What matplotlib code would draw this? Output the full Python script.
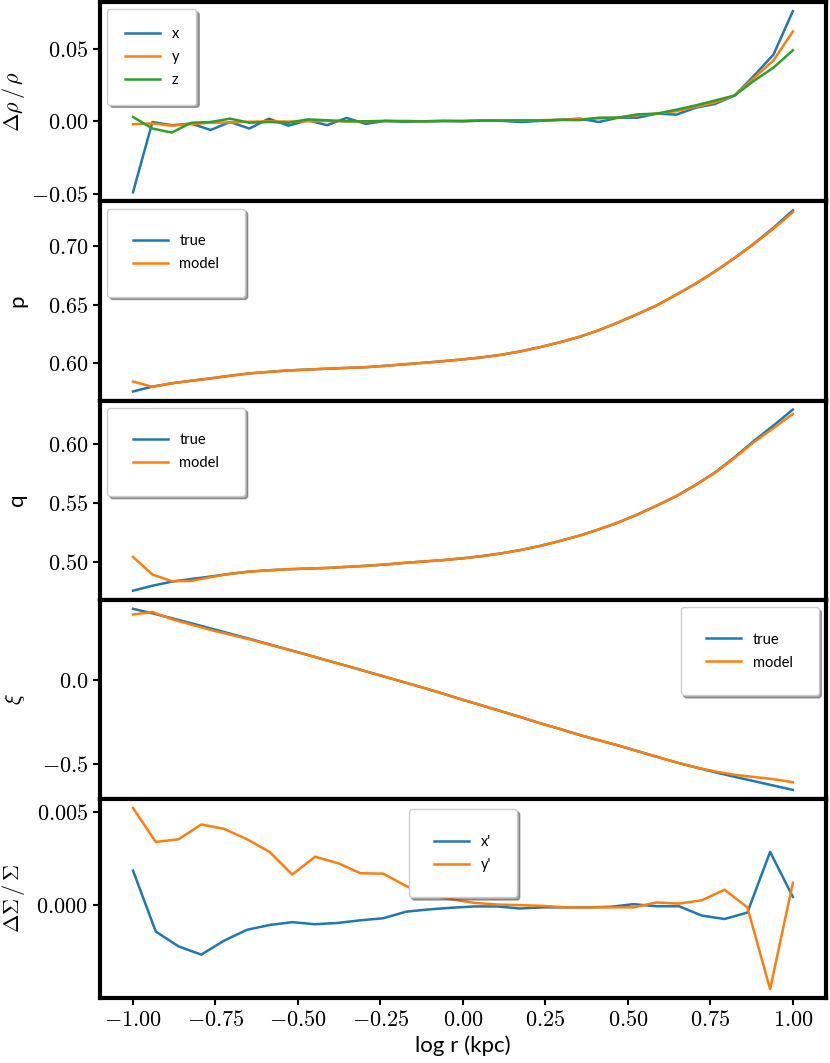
import numpy as np
import matplotlib
matplotlib.use('Agg')
import matplotlib.pyplot as plt
from matplotlib.ticker import FuncFormatter

plt.rcParams['mathtext.fontset'] = 'cm'
plt.rcParams['font.family'] = ['Lato', 'DejaVu Sans']

# log r grid (35 points for the shape panels, 30 for the projected one)
logr = np.linspace(-1, 1, 35)
logr2 = np.linspace(-1, 1, 30)

drho_x = [-0.049, -0.0005, -0.0027, -0.0016, -0.006, -0.0005, -0.005, 0.0018, -0.003, 0.0007,
          -0.0027, 0.0023, -0.0018, 0.0003, -0.0003, 0.0, 0.0002, 0.0, 0.0005, 0.0003,
          -0.0005, 0.0003, 0.001, 0.0018, -0.0005, 0.0025, 0.0025, 0.0053, 0.0046, 0.0094,
          0.012, 0.0178, 0.0315, 0.046, 0.076]
drho_y = [-0.002, -0.0015, -0.003, -0.002, -0.001, -0.0008, -0.0003, 0.0, -0.0002, 0.0,
          0.0002, 0.0, 0.0, 0.0002, 0.0003, 0.0, 0.0003, 0.0002, 0.0004, 0.0005,
          0.0006, 0.0008, 0.001, 0.0015, 0.002, 0.0025, 0.0042, 0.0053, 0.007, 0.010,
          0.013, 0.0178, 0.030, 0.042, 0.062]
drho_z = [0.003, -0.005, -0.0078, -0.001, -0.0005, 0.0018, -0.001, -0.0005, -0.001, 0.0013,
          0.0007, 0.0, 0.0, 0.0002, 0.0, 0.0, 0.0002, 0.0002, 0.0005, 0.0005,
          0.0006, 0.0005, 0.001, 0.0008, 0.0025, 0.0025, 0.0048, 0.0053, 0.008, 0.011,
          0.0144, 0.0178, 0.028, 0.037, 0.049]

p_true = [0.5755, 0.5797, 0.5825, 0.5847, 0.5867, 0.5890, 0.5910, 0.5923, 0.5935, 0.5943,
          0.5950, 0.5957, 0.5963, 0.5975, 0.5988, 0.6001, 0.6015, 0.6030, 0.6048, 0.6070,
          0.6100, 0.6136, 0.6177, 0.6223, 0.6280, 0.6347, 0.6418, 0.6494, 0.6585, 0.6680,
          0.6785, 0.6900, 0.7023, 0.7158, 0.7307]
p_model = [0.5840, 0.5795, 0.5825, 0.5847, 0.5867, 0.5890, 0.5910, 0.5923, 0.5935, 0.5943,
           0.5950, 0.5957, 0.5963, 0.5975, 0.5988, 0.6001, 0.6015, 0.6030, 0.6048, 0.6070,
           0.6100, 0.6136, 0.6177, 0.6223, 0.6280, 0.6347, 0.6418, 0.6494, 0.6585, 0.6680,
           0.6785, 0.6898, 0.7020, 0.7150, 0.7291]

q_true = [0.4758, 0.4800, 0.4835, 0.4857, 0.4878, 0.4901, 0.4920, 0.4931, 0.4940, 0.4946,
          0.4951, 0.4960, 0.4969, 0.4980, 0.4994, 0.5006, 0.5018, 0.5033, 0.5052, 0.5075,
          0.5104, 0.5139, 0.5180, 0.5225, 0.5278, 0.5337, 0.5405, 0.5481, 0.5561, 0.5657,
          0.5763, 0.5891, 0.6030, 0.6160, 0.6295]
q_model = [0.5045, 0.4895, 0.4839, 0.4841, 0.4873, 0.4901, 0.4920, 0.4931, 0.4940, 0.4946,
           0.4951, 0.4960, 0.4969, 0.4980, 0.4994, 0.5006, 0.5018, 0.5033, 0.5052, 0.5075,
           0.5104, 0.5139, 0.5180, 0.5225, 0.5278, 0.5337, 0.5405, 0.5481, 0.5561, 0.5655,
           0.5760, 0.5885, 0.6020, 0.6138, 0.6258]

xi_true = [0.424, 0.397, 0.368, 0.338, 0.307, 0.276, 0.245, 0.213, 0.181, 0.149,
           0.116, 0.084, 0.051, 0.018, -0.015, -0.048, -0.083, -0.119, -0.153, -0.188,
           -0.223, -0.259, -0.293, -0.328, -0.360, -0.391, -0.425, -0.459, -0.492, -0.522,
           -0.551, -0.578, -0.604, -0.630, -0.656]
xi_model = [0.390, 0.405, 0.362, 0.330, 0.298, 0.270, 0.242, 0.211, 0.180, 0.149,
            0.116, 0.084, 0.051, 0.018, -0.015, -0.048, -0.083, -0.119, -0.153, -0.188,
            -0.223, -0.259, -0.293, -0.328, -0.360, -0.391, -0.425, -0.459, -0.492, -0.522,
            -0.546, -0.566, -0.579, -0.592, -0.610]

dsig_x = [0.00186, -0.00139, -0.00218, -0.00262, -0.00188, -0.0013, -0.00104, -0.00089, -0.001, -0.00093,
          -0.00079, -0.00068, -0.00033, -0.00021, -0.00012, -0.00005, -0.00005, -0.00016, -0.0001, -0.0001,
          -0.0001, -0.00007, 0.00007, -0.00004, -0.00004, -0.00054, -0.00072, -0.00038, 0.00286, 0.00046]
dsig_y = [0.0052, 0.00339, 0.00353, 0.00432, 0.00409, 0.00354, 0.00286, 0.00165, 0.0026, 0.00226,
          0.00172, 0.0017, 0.00104, 0.00058, 0.00033, 0.00014, 0.00005, 0.00002, -0.00002, -0.0001,
          -0.0001, -0.0001, -0.0001, 0.00016, 0.0001, 0.00028, 0.00084, -0.0001, -0.00446, 0.00121]

xticks = [-1.0, -0.75, -0.5, -0.25, 0.0, 0.25, 0.5, 0.75, 1.0]

fig, axes = plt.subplots(5, 1, sharex=True, figsize=(8.3, 10.63), dpi=100,
                         gridspec_kw=dict(hspace=0))
fig.subplots_adjust(left=0.1205, right=0.995, top=0.998, bottom=0.061)

lw = 1.8
leg_kw = dict(shadow=True, fancybox=True, fontsize=10.5, handlelength=2.4, labelspacing=0.62)

ax = axes[0]
ax.plot(logr, drho_x, lw=lw, label='x')
ax.plot(logr, drho_y, lw=lw, label='y')
ax.plot(logr, drho_z, lw=lw, label='z')
ax.set_yticks([-0.05, 0.0, 0.05])
ax.yaxis.set_major_formatter(FuncFormatter(lambda v, _: '$%.2f$' % v))
ax.set_ylabel(r'$\Delta\rho\,/\,\rho$')
ax.legend(loc='upper left', borderpad=1.2, **leg_kw)

ax = axes[1]
ax.plot(logr, p_true, lw=lw, label='true')
ax.plot(logr, p_model, lw=lw, label='model')
ax.set_yticks([0.60, 0.65, 0.70])
ax.yaxis.set_major_formatter(FuncFormatter(lambda v, _: '$%.2f$' % v))
ax.set_ylabel('p')
ax.legend(loc='upper left', borderpad=1.75, **leg_kw)

ax = axes[2]
ax.plot(logr, q_true, lw=lw, label='true')
ax.plot(logr, q_model, lw=lw, label='model')
ax.set_yticks([0.50, 0.55, 0.60])
ax.yaxis.set_major_formatter(FuncFormatter(lambda v, _: '$%.2f$' % v))
ax.set_ylabel('q')
ax.legend(loc='upper left', borderpad=1.75, **leg_kw)

ax = axes[3]
ax.plot(logr, xi_true, lw=lw, label='true')
ax.plot(logr, xi_model, lw=lw, label='model')
ax.set_yticks([-0.5, 0.0])
ax.yaxis.set_major_formatter(FuncFormatter(lambda v, _: '$%.1f$' % v))
ax.set_ylabel(r'$\xi$')
ax.legend(loc='upper right', borderpad=1.75, **leg_kw)

ax = axes[4]
ax.plot(logr2, dsig_x, lw=lw, label="x'")
ax.plot(logr2, dsig_y, lw=lw, label="y'")
ax.set_yticks([0.0, 0.005])
ax.yaxis.set_major_formatter(FuncFormatter(lambda v, _: '$%.3f$' % v))
ax.set_ylabel(r'$\Delta\Sigma\,/\,\Sigma$')
ax.legend(loc='upper center', borderpad=1.75, borderaxespad=0.7, **leg_kw)
ax.set_xticks(xticks)
ax.xaxis.set_major_formatter(FuncFormatter(lambda v, _: '$%.2f$' % v))
ax.set_xlabel('log r (kpc)', fontsize=16)

for i, ax in enumerate(axes):
    for s in ax.spines.values():
        s.set_linewidth(3)
    ax.tick_params(axis='y', labelsize=16, width=1.5, length=5)
    ax.tick_params(axis='x', labelsize=16, width=1.5, length=5)
    if i < 4:
        ax.tick_params(axis='x', bottom=False)
    ax.yaxis.label.set_size(16)
    ax.yaxis.set_label_coords(-0.1, 0.5)

plt.savefig('out.png', dpi=100)
